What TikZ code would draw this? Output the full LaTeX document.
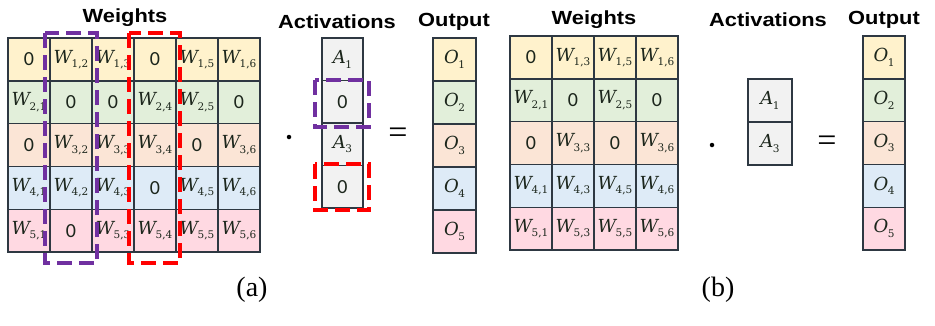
\documentclass[tikz,border=0pt]{standalone}
\usepackage{fontspec}
\setmainfont{Liberation Serif}
\newfontfamily\labfont{Liberation Sans}[FakeStretch=1.15]
\newfontfamily\zerofont{Carlito}
\newfontfamily\wfont{DejaVu Serif}
\definecolor{bordc}{RGB}{46,56,66}
\definecolor{txtc}{RGB}{28,38,28}
\definecolor{cyel}{RGB}{255,242,204}
\definecolor{cgrn}{RGB}{226,239,218}
\definecolor{cpch}{RGB}{251,229,214}
\definecolor{cblu}{RGB}{222,235,247}
\definecolor{cpnk}{RGB}{255,217,226}
\definecolor{cgry}{RGB}{242,242,242}
\definecolor{cpur}{RGB}{112,48,160}
\definecolor{cred}{RGB}{255,0,0}
\newcommand\z{{\zerofont\fontsize{20}{20}\selectfont 0}}
\newcommand\sbs[2]{{\wfont\itshape\fontsize{18}{18}\selectfont #1}\kern-0.5pt\raisebox{-4.5pt}{\wfont\fontsize{10.5}{10.5}\selectfont #2}}
\newcommand\w[2]{\sbs{W}{#1,#2}}
\newcommand\ac[1]{\sbs{A}{#1}}
\newcommand\ou[1]{\sbs{O}{#1}}
\tikzset{
  cell/.style={draw=bordc, line width=1.4pt, minimum width=42pt, minimum height=42.8pt,
    inner sep=0pt, text=txtc},
  head/.style={font=\labfont\bfseries\fontsize{19}{19}\selectfont, inner sep=0pt},
  sublab/.style={font=\fontsize{28}{28}\selectfont, inner sep=0pt},
  op/.style={font=\fontsize{34}{34}\selectfont, inner sep=0pt},
  dotmark/.style={circle, fill=black, inner sep=0pt, minimum size=4.5pt},
  purpbox/.style={draw=cpur, line width=4pt, dash pattern=on 15pt off 7pt},
  redbox/.style={draw=cred, line width=4pt, dash pattern=on 15pt off 7pt},
}
\begin{document}
\begin{tikzpicture}[x=1pt,y=-1pt]
\useasboundingbox[fill=white] (0,0) rectangle (935,325);
% ---------- panel (a) weights
\foreach \rc/\cl [count=\i] in {{\z,\w12,\w13,\z,\w15,\w16}/cyel,
  {\w21,\z,\z,\w24,\w25,\z}/cgrn,
  {\z,\w32,\w33,\w34,\z,\w36}/cpch,
  {\w41,\w42,\w43,\z,\w45,\w46}/cblu,
  {\w51,\z,\w53,\w54,\w55,\w56}/cpnk}{
  \foreach \c [count=\j] in \rc {
    \node[cell, fill=\cl] (wa-\i-\j) at ({8+21+42*(\j-1)},{38+21.4+42.8*(\i-1)}) {\c};
  }
}
\node[head] (wta) at (125,18) {Weights};
\draw[purpbox] (45,33) rectangle (97,263);
\draw[redbox] (129,33) rectangle (180,263);
% dot
\node[dotmark] (dota) at (289,137) {};
% activations (a)
\foreach \c [count=\i] in {\ac1,\z,\ac3,\z}{
  \node[cell, fill=cgry, minimum width=41pt, minimum height=42.5pt] (aa-\i) at (342.5,{38+21.25+42.5*(\i-1)}) {\c};
}
\node[head] (acta) at (337,22) {Activations};
\draw[purpbox] (315,80) rectangle (369,127);
\draw[redbox] (315,164) rectangle (369,210);
\node[op] (eqa) at (398,136) {=};
% output (a)
\foreach \c/\cl [count=\i] in {\ou1/cyel,\ou2/cgrn,\ou3/cpch,\ou4/cblu,\ou5/cpnk}{
  \node[cell, fill=\cl, minimum width=43pt, minimum height=43pt] (oa-\i) at (454.5,{38+21.5+43*(\i-1)}) {\c};
}
\node[head] (outa) at (454,22) {Output};
\node[sublab] (laba) at (252,290) {(a)};
% ---------- panel (b) weights
\foreach \rc/\cl [count=\i] in {{\z,\w13,\w15,\w16}/cyel,
  {\w21,\z,\w25,\z}/cgrn,
  {\z,\w33,\z,\w36}/cpch,
  {\w41,\w43,\w45,\w46}/cblu,
  {\w51,\w53,\w55,\w56}/cpnk}{
  \foreach \c [count=\j] in \rc {
    \node[cell, fill=\cl] (wb-\i-\j) at ({510+21+42*(\j-1)},{36+21.4+42.8*(\i-1)}) {\c};
  }
}
\node[head] (wtb) at (594,20) {Weights};
\node[dotmark] (dotb) at (712,145) {};
\foreach \c [count=\i] in {\ac1,\ac3}{
  \node[cell, fill=cgry, minimum width=44pt, minimum height=43pt] (ab-\i) at (770,{79+21.5+43*(\i-1)}) {\c};
}
\node[head] (actb) at (768,20) {Activations};
\node[op] (eqb) at (827,144) {=};
\foreach \c/\cl [count=\i] in {\ou1/cyel,\ou2/cgrn,\ou3/cpch,\ou4/cblu,\ou5/cpnk}{
  \node[cell, fill=\cl, minimum width=42pt, minimum height=42.8pt] (ob-\i) at (884,{36+21.4+42.8*(\i-1)}) {\c};
}
\node[head] (outb) at (884,20) {Output};
\node[sublab] (labb) at (718,290) {(b)};
\end{tikzpicture}
\end{document}
